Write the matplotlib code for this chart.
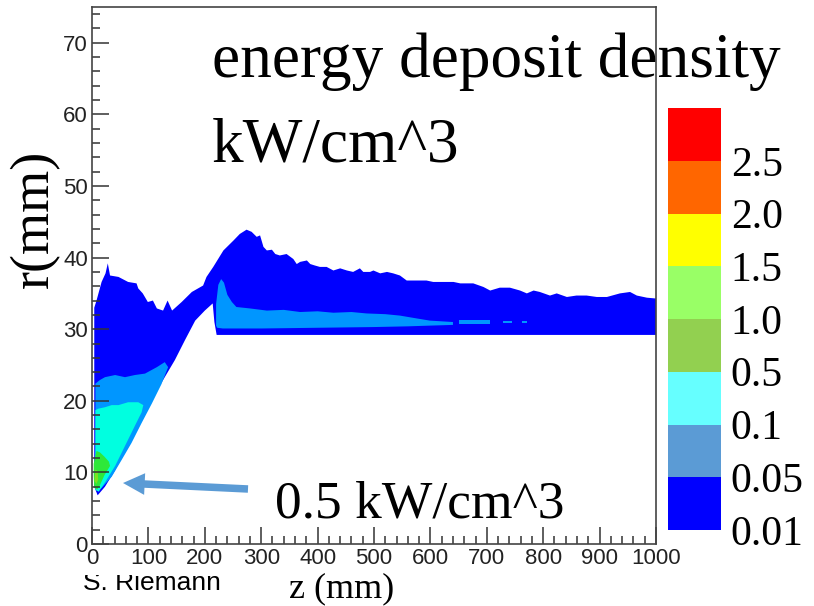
import numpy as np
import matplotlib
matplotlib.use("Agg")
import matplotlib.pyplot as plt
from matplotlib.colors import ListedColormap, BoundaryNorm
from matplotlib.cm import ScalarMappable
from matplotlib.patches import FancyArrowPatch
from matplotlib.ticker import MultipleLocator
from matplotlib.transforms import Bbox, TransformedBbox

# colour key: level boundaries (kW/cm^3) and colours
levels = [0.01, 0.05, 0.1, 0.5, 1.0, 1.5, 2.0, 2.5, 3.0]
level_labels = ["0.01", "0.05", "0.1", "0.5", "1.0", "1.5", "2.0", "2.5"]
key_colors = ["#0000ff", "#5b9bd5", "#66ffff", "#92d050",
              "#99ff66", "#ffff00", "#ff6600", "#ff0000"]

# contour outlines, z (mm) and r (mm)
# > 0.01 kW/cm^3 (upper edge, left to right)
blue_top_z = [4, 8, 17, 24, 28, 32, 47, 64, 79, 82, 90, 99, 108, 115, 126, 134,
              142, 159, 177, 197, 203, 215, 233, 251, 262, 274, 283, 292, 298,
              304, 310, 319, 325, 333, 345, 357, 363, 369, 381, 387, 395, 404,
              416, 428, 440, 452, 463, 475, 481, 493, 499, 511, 523, 534, 546,
              558, 576, 593, 605, 623, 641, 653, 676, 694, 706, 723, 741, 759,
              771, 783, 794, 812, 824, 842, 859, 877, 895, 913, 936, 954, 966,
              984, 998, 1000]
blue_top_r = [33.0, 34.0, 36.6, 37.8, 39.2, 37.5, 37.3, 36.6, 36.4, 35.7, 35.0,
              33.8, 34.0, 32.9, 32.6, 34.0, 32.6, 33.8, 35.2, 36.1, 37.3, 38.7,
              41.0, 42.4, 43.3, 43.9, 43.6, 42.9, 43.1, 41.5, 41.0, 41.1, 40.5,
              40.3, 40.5, 39.8, 39.1, 39.4, 39.6, 39.1, 38.9, 38.7, 38.7, 38.2,
              38.5, 38.2, 38.0, 38.5, 38.0, 38.0, 38.2, 37.8, 38.0, 37.8, 37.5,
              36.8, 36.8, 36.8, 36.6, 36.6, 36.6, 36.4, 36.4, 35.9, 35.4, 35.8,
              35.8, 35.4, 35.0, 35.4, 35.2, 34.7, 35.0, 34.5, 34.7, 34.7, 34.5,
              34.5, 35.0, 35.2, 34.7, 34.4, 34.3, 34.3]
# lower edge, right to left
blue_bot_z = [1000, 221, 217, 214, 200, 183, 165, 147, 129, 112, 94, 76, 58.5,
              41, 23, 10, 4]
blue_bot_r = [29.2, 29.2, 31.0, 33.6, 32.6, 31.2, 28.5, 25.7, 23.3, 21.0, 18.7,
              15.9, 13.1, 10.3, 8.0, 6.8, 8.0]

# > 0.05 kW/cm^3, left part
steel1_top_z = [6, 14, 23, 41, 58.5, 76, 94, 115, 129, 135]
steel1_top_r = [22.4, 22.9, 23.3, 23.6, 23.3, 23.6, 23.8, 24.7, 25.4, 24.7]
steel1_bot_z = [123, 106, 88, 70, 53, 35, 17, 8, 6]
steel1_bot_r = [22.3, 19.6, 16.9, 14.1, 11.8, 9.4, 7.8, 7.4, 7.8]

# > 0.05 kW/cm^3, right part
steel2_top_z = [220, 224, 229, 234, 240, 248, 256, 280, 310, 340, 369, 400,
                428, 460, 487, 520, 546, 576, 599, 620, 640]
steel2_top_r = [33.5, 36.2, 37.0, 36.5, 34.8, 33.8, 33.1, 32.9, 32.6, 32.7,
                32.4, 32.5, 32.3, 32.4, 32.2, 32.1, 31.9, 31.5, 31.2, 31.1, 31.0]
steel2_bot_z = [640, 599, 560, 500, 400, 300, 232, 222, 220]
steel2_bot_r = [30.6, 30.5, 30.4, 30.3, 30.2, 30.1, 30.1, 30.2, 30.5]

# small > 0.05 spots further downstream: z0, z1, r0, r1
steel_spots_z0 = [650, 728, 762]
steel_spots_z1 = [705, 745, 771]
steel_spots_r0 = [30.7, 30.8, 30.8]
steel_spots_r1 = [31.3, 31.2, 31.2]

# > 0.1 kW/cm^3
cyan_top_z = [6, 11, 23, 35, 47, 64, 82, 91]
cyan_top_r = [18.7, 18.9, 19.1, 19.4, 19.4, 19.8, 19.8, 19.4]
cyan_bot_z = [88, 76, 58.5, 41, 23, 12, 6]
cyan_bot_r = [18.4, 16.5, 13.7, 10.9, 8.6, 7.3, 7.6]

# > 0.5 kW/cm^3
green_z = [3, 8, 14, 22, 30, 32, 22, 14, 9, 4, 3]
green_r = [11.2, 13.0, 12.8, 12.2, 11.5, 10.9, 9.6, 8.2, 7.6, 7.9, 9.5]
core_z = [4.5, 6, 10, 11, 8]
core_r = [8.8, 10.4, 10.2, 9.0, 8.4]

plot_colors = {"blue": "#0000ff", "steel": "#0096ff", "cyan": "#00ffe0",
               "green": "#2ee83a", "core": "#80e020"}

W, H = 814, 606


def outline(top_z, top_r, bot_z, bot_r):
    return np.concatenate([top_z, bot_z]), np.concatenate([top_r, bot_r])


fig = plt.figure(figsize=(W / 100, H / 100), dpi=100)
ax = fig.add_axes([92 / W, (H - 544) / H, (656 - 92) / W, (544 - 7) / H])

z, r = outline(blue_top_z, blue_top_r, blue_bot_z, blue_bot_r)
ax.fill(z, r, color=plot_colors["blue"], lw=0)
z, r = outline(steel1_top_z, steel1_top_r, steel1_bot_z, steel1_bot_r)
ax.fill(z, r, color=plot_colors["steel"], lw=0)
z, r = outline(steel2_top_z, steel2_top_r, steel2_bot_z, steel2_bot_r)
ax.fill(z, r, color=plot_colors["steel"], lw=0)
for z0, z1, r0, r1 in zip(steel_spots_z0, steel_spots_z1, steel_spots_r0, steel_spots_r1):
    ax.fill_between([z0, z1], [r0, r0], [r1, r1], color=plot_colors["steel"], lw=0)
z, r = outline(cyan_top_z, cyan_top_r, cyan_bot_z, cyan_bot_r)
ax.fill(z, r, color=plot_colors["cyan"], lw=0)
ax.fill(green_z, green_r, color=plot_colors["green"], lw=0)
ax.fill(core_z, core_r, color=plot_colors["core"], lw=0)

ax.set_xlim(0, 1000)
ax.set_ylim(0, 75)
ax.xaxis.set_major_locator(MultipleLocator(100))
ax.xaxis.set_minor_locator(MultipleLocator(20))
ax.yaxis.set_major_locator(MultipleLocator(10))
ax.yaxis.set_minor_locator(MultipleLocator(2))
ax.tick_params(which="both", direction="in", top=False, right=False,
               width=1.1, color="#333333")
ax.tick_params(which="major", length=12, labelsize=16, labelcolor="#222222", pad=3)
ax.tick_params(which="minor", length=6)
for lab in ax.get_xticklabels() + ax.get_yticklabels():
    lab.set_family("Liberation Sans")
for sp in ax.spines.values():
    sp.set_linewidth(1.2)
    sp.set_color("#444444")

# colour key
cax = fig.add_axes([668 / W, (H - 530) / H, 53 / W, 422 / H])
cmap = ListedColormap(key_colors)
norm = BoundaryNorm(levels, cmap.N)
cb = fig.colorbar(ScalarMappable(norm=norm, cmap=cmap), cax=cax,
                  spacing="uniform", ticks=levels[:-1])
cb.set_ticklabels(level_labels)
cb.outline.set_visible(False)
cax.minorticks_off()
cax.tick_params(which="both", length=0, pad=7, labelsize=30)
for lab in cax.get_yticklabels():
    lab.set_family("Liberation Serif")

serif = "Liberation Serif"
fig.text(212 / W, (H - 77) / H, "energy deposit density", fontsize=45.5,
         family=serif, va="baseline")
fig.text(212 / W, (H - 162) / H, "kW/cm^3", fontsize=45.5, family=serif, va="baseline")
fig.text(275 / W, (H - 517) / H, "0.5 kW/cm^3", fontsize=38.5, family=serif,
         va="baseline")
fig.text(342 / W, (H - 597) / H, "z (mm)", fontsize=26, family=serif,
         ha="center", va="baseline")
fig.text(35 / W, (H - 219) / H, "r(mm)", fontsize=39, family=serif,
         rotation=90, ha="center", va="center")

# author tag, top cut off as in the original
t = fig.text(83 / W, (H - 590) / H, "S. Riemann", fontsize=19,
             family="Liberation Sans", va="baseline")
t.set_clip_box(TransformedBbox(Bbox([[0, 0], [1, (H - 575) / H]]), fig.transFigure))
t.set_clip_on(True)

# arrow pointing at the hot spot
fig.add_artist(FancyArrowPatch(
    (248, H - 489), (123, H - 483), transform=None,
    arrowstyle="simple,head_length=1.3,head_width=1.3,tail_width=0.45",
    mutation_scale=12, color="#5b9bd5", lw=0, shrinkA=0, shrinkB=0))

fig.savefig("out.png", dpi=100, facecolor="white")
